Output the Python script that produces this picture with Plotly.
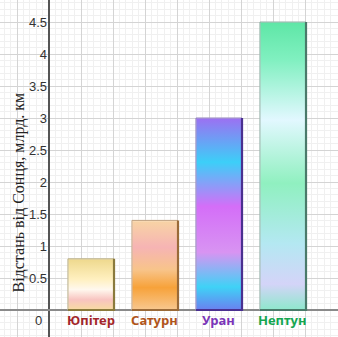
import plotly.graph_objects as go

planets = ["Юпітер", "Сатурн", "Уран", "Нептун"]
distances = [0.8, 1.4, 3.0, 4.5]
label_colors = ["#a3262a", "#b0541a", "#7a35b8", "#14a650"]
y_ticks = [0.5, 1, 1.5, 2, 2.5, 3, 3.5, 4, 4.5]
y_title = "Відстань від Сонця, млрд. км"

gradients = [
    [[0, "#f8dca0"], [0.2, "#f8c4c0"], [0.4, "#fff8ee"], [0.6, "#fff0c0"], [1, "#eed88c"]],
    [[0, "#f8c890"], [0.25, "#f7a23a"], [0.45, "#f8c48a"], [0.7, "#f6b4b4"], [1, "#f8d4a4"]],
    [[0, "#6a80f0"], [0.12, "#3fd2f6"], [0.3, "#d894f2"], [0.54, "#d46ef8"], [0.77, "#3ccff8"], [1, "#9c70f2"]],
    [[0, "#8ee8cc"], [0.09, "#d4d4f8"], [0.23, "#b4e8f2"], [0.44, "#90f0c0"], [0.66, "#e2f8ff"], [0.87, "#80f0c0"], [1, "#5ee6a6"]],
]
edge_colors = ["#8a7a3c", "#9a6a38", "#4a3090", "#4a7a6a"]

bar_width = 0.72
first_center = 0.656

fig = go.Figure()
for i, (name, val) in enumerate(zip(planets, distances)):
    c = first_center + i
    x0, x1 = c - bar_width / 2, c + bar_width / 2
    fig.add_trace(go.Scatter(
        x=[x0, x1, x1, x0, x0], y=[0, 0, val, val, 0],
        mode="lines", fill="toself",
        fillgradient=dict(type="vertical", colorscale=gradients[i], start=0, stop=val),
        line=dict(color="rgba(255,255,255,0.6)", width=1.5),
        hoverinfo="skip", showlegend=False,
    ))
    fig.add_trace(go.Scatter(
        x=[x0, x1, x1], y=[0, 0, val],
        mode="lines", line=dict(color=edge_colors[i], width=2.2),
        hoverinfo="skip", showlegend=False,
    ))
    fig.add_trace(go.Scatter(
        x=[x0, x0, x1], y=[0, val, val],
        mode="lines", line=dict(color=edge_colors[i], width=1),
        opacity=0.6, hoverinfo="skip", showlegend=False,
    ))
    fig.add_annotation(x=c, y=-0.155, xref="x", yref="y", text=f"<b>{name}</b>",
                       showarrow=False, font=dict(family="Noto Sans", size=13, color=label_colors[i]))

fig.add_annotation(x=-0.08, y=-0.16, xref="x", yref="y", text="0", xanchor="right",
                   showarrow=False, font=dict(family="Liberation Sans", size=13, color="#333"))
fig.add_annotation(x=18 / 338, y=1 - 192.5 / 337, xref="paper", yref="paper",
                   xanchor="center", yanchor="middle", text=y_title, textangle=-90,
                   showarrow=False, font=dict(family="Liberation Serif", size=16, color="#222"))

px = 64.0
xr = [-49 / px, (338 - 49) / px]
yr = [(310 - 337) / px, 310 / px]

fig.update_layout(
    width=338, height=337, margin=dict(l=0, r=0, t=0, b=0),
    paper_bgcolor="white", plot_bgcolor="white",
    xaxis=dict(range=xr, dtick=0.5, tick0=0, showticklabels=False, showgrid=True,
               gridcolor="#d4d4d4", gridwidth=1.4,
               minor=dict(dtick=0.1, showgrid=True, gridcolor="#f0f0f0", gridwidth=1),
               zeroline=True, zerolinecolor="#555", zerolinewidth=1.6, fixedrange=True),
    yaxis=dict(range=yr, tickvals=y_ticks, ticktext=[f"{v:g}" for v in y_ticks],
               showgrid=True, gridcolor="#d4d4d4", gridwidth=1.4,
               minor=dict(dtick=0.1, showgrid=True, gridcolor="#f0f0f0", gridwidth=1),
               zeroline=True, zerolinecolor="#8a8a8a", zerolinewidth=2.4,
               anchor="free", position=49 / 338, ticks="", ticklabelstandoff=2,
               tickfont=dict(family="Liberation Sans", size=13, color="#333"), fixedrange=True),
    showlegend=False,
)

fig.write_html("out.html", config={"displayModeBar": False})
